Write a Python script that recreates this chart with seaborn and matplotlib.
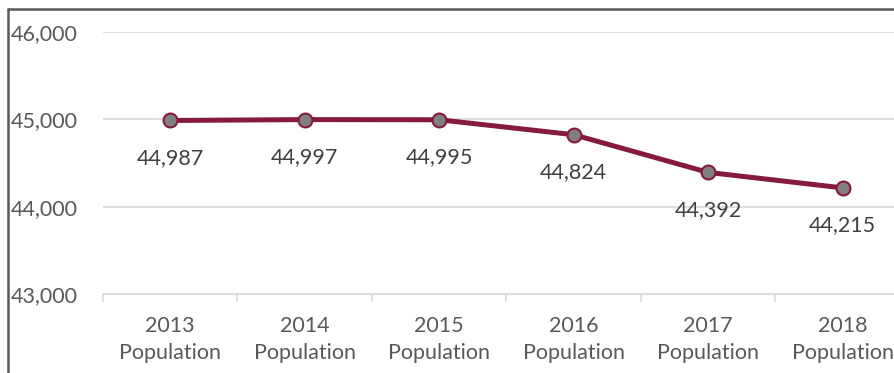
import seaborn as sns
import matplotlib.pyplot as plt
import pandas as pd
from matplotlib.lines import Line2D

years = ["2013", "2014", "2015", "2016", "2017", "2018"]
population = [44987, 44997, 44995, 44824, 44392, 44215]
tick_labels = [y + "\nPopulation" for y in years]

df = pd.DataFrame({"label": tick_labels, "population": population})

sns.set_theme(style="white")
plt.rcParams['font.family'] = ['Lato', 'DejaVu Sans']

fig = plt.figure(figsize=(8.95, 3.73), dpi=100)
ax = fig.add_axes([103 / 895, 79 / 373, 807 / 895, 262 / 373])

line_color = "#861A3E"
sns.lineplot(data=df, x="label", y="population", ax=ax, color=line_color,
             linewidth=3.6, marker="o", markersize=10,
             markerfacecolor="#808080", markeredgecolor=line_color,
             markeredgewidth=1.5, sort=False)

# data labels under each point
for i, v in enumerate(population):
    ax.annotate(f"{v:,}", (i, v), xytext=(0, -27), textcoords="offset points",
                ha="center", va="center", fontsize=15.5, color="#404040")

ax.set_xlim(-0.5, 5.5)
ax.set_ylim(43000, 46000)
ax.set_yticks([43000, 44000, 45000, 46000])
ax.set_yticklabels(["43,000", "44,000", "45,000", "46,000"])
ax.grid(axis="y", color="#D9D9D9", linewidth=1.2)
ax.set_xlabel("")
ax.set_ylabel("")

for s in ["top", "right", "left"]:
    ax.spines[s].set_visible(False)
ax.spines["bottom"].set_color("#D9D9D9")
ax.spines["bottom"].set_linewidth(1.2)

ax.tick_params(axis="y", length=0, labelsize=15.5, labelcolor="#595959", pad=0)
for t in ax.get_yticklabels():
    t.set_horizontalalignment("left")
    t.set_x(-92 / 807)
ax.tick_params(axis="x", which="major", length=0, labelsize=15.5,
               labelcolor="#595959", pad=16)
for t in ax.get_xticklabels():
    t.set_linespacing(1.45)
ax.set_xticks([i - 0.5 for i in range(7)], minor=True)
ax.tick_params(axis="x", which="minor", length=6, width=1.2, color="#D9D9D9",
               direction="out", bottom=True)

# chart frame (left and top edges visible in the crop)
fig.add_artist(Line2D([8 / 895, 8 / 895], [0, 1 - 9 / 373], transform=fig.transFigure,
                      color="#595959", linewidth=1.8))
fig.add_artist(Line2D([8 / 895, 1], [1 - 9 / 373, 1 - 9 / 373], transform=fig.transFigure,
                      color="#595959", linewidth=1.8))

fig.savefig("out.png", dpi=100)
